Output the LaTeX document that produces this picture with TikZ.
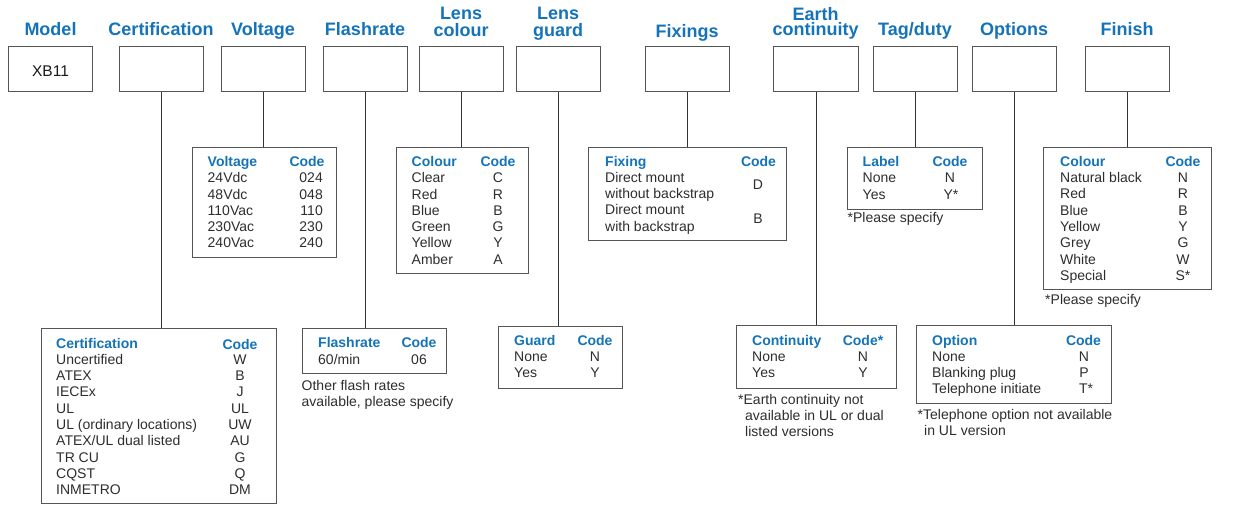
\documentclass[tikz,border=0pt]{standalone}
\usepackage{fontspec}
\setmainfont{Liberation Sans}
\definecolor{hblue}{RGB}{20,115,185}
\definecolor{boxgray}{RGB}{85,85,85}
\definecolor{txt}{RGB}{45,45,45}
\tikzset{
 title/.style={font=\fontsize{18}{18}\selectfont\bfseries, text=hblue, inner sep=0, anchor=base},
 topbox/.style={draw=boxgray, line width=1.2pt, minimum width=84pt, minimum height=45pt, anchor=north west, inner sep=0},
 tab/.style={draw=boxgray, line width=1.2pt, anchor=north west, inner sep=0},
 hd/.style={font=\fontsize{14}{16}\selectfont\bfseries, text=hblue, inner sep=0, anchor=base west},
 hdc/.style={hd, anchor=base},
 tx/.style={font=\fontsize{14}{16}\selectfont, text=txt, inner sep=0, anchor=base west},
 cd/.style={tx, anchor=base},
 cdr/.style={tx, anchor=base east},
 link/.style={draw=black!80, line width=0.9pt},
}
\begin{document}
\begin{tikzpicture}[x=1pt,y=-1pt]
\useasboundingbox (0,0) rectangle (1233,530);
% top boxes
\node[topbox] (model) at (8,46) {};
\node[topbox] (cert) at (119,46) {};
\node[topbox] (volt) at (221,46) {};
\node[topbox] (flash) at (323,46) {};
\node[topbox] (lcol) at (419,46) {};
\node[topbox] (lguard) at (516,46) {};
\node[topbox] (fix) at (645,46) {};
\node[topbox, minimum width=85pt] (earth) at (773,46) {};
\node[topbox] (tag) at (873,46) {};
\node[topbox] (opt) at (972,46) {};
\node[topbox] (fin) at (1085,46) {};
\node[font=\fontsize{15.5}{16}\selectfont, text=black!90, inner sep=0, anchor=base] (xb) at (50.5,76) {XB11};
% titles
\node[title] (tmodel) at (50.5,35) {Model};
\node[title] (tcert) at (161,35) {Certification};
\node[title] (tvolt) at (263,35) {Voltage};
\node[title] (tflash) at (365,35) {Flashrate};
\node[title] (tlcol1) at (461,19.3) {Lens};
\node[title] (tlcol2) at (461,36) {colour};
\node[title] (tlg1) at (558,19.3) {Lens};
\node[title] (tlg2) at (558,36) {guard};
\node[title] (tfix) at (687,37) {Fixings};
\node[title] (tearth1) at (815.5,20.2) {Earth};
\node[title] (tearth2) at (815.5,35.8) {continuity};
\node[title] (ttag) at (915,35) {Tag/duty};
\node[title] (topt) at (1014,35) {Options};
\node[title] (tfin) at (1127,35) {Finish};
% tables
\node[tab, minimum width=235pt, minimum height=175pt] (certtab) at (41,328) {};
\node[tab, minimum width=144pt, minimum height=110pt] (volttab) at (192,147) {};
\node[tab, minimum width=144pt, minimum height=45pt] (flashtab) at (302,328) {};
\node[tab, minimum width=132pt, minimum height=126pt] (coltab) at (396,147) {};
\node[tab, minimum width=124pt, minimum height=62pt] (guardtab) at (498,326) {};
\node[tab, minimum width=198pt, minimum height=93pt] (fixtab) at (588,147) {};
\node[tab, minimum width=160pt, minimum height=63pt] (conttab) at (736,325) {};
\node[tab, minimum width=135pt, minimum height=62pt] (labtab) at (847,147) {};
\node[tab, minimum width=195pt, minimum height=78pt] (opttab) at (916,325) {};
\node[tab, minimum width=168pt, minimum height=142pt] (fintab) at (1043,147) {};
% connectors
\draw[link] (cert.south) -- (cert.south |- certtab.north);
\draw[link] (volt.south) -- (volt.south |- volttab.north);
\draw[link] (flash.south) -- (flash.south |- flashtab.north);
\draw[link] (lcol.south) -- (lcol.south |- coltab.north);
\draw[link] (lguard.south) -- (lguard.south |- guardtab.north);
\draw[link] (fix.south) -- (fix.south |- fixtab.north);
\draw[link] (earth.south) -- (earth.south |- conttab.north);
\draw[link] (tag.south) -- (tag.south |- labtab.north);
\draw[link] (opt.south) -- (opt.south |- opttab.north);
\draw[link] (fin.south) -- (fin.south |- fintab.north);
% certification table
\node[hd] (certh) at (56,348) {Certification};
\node[hdc] (certc) at (240,349) {Code};
\foreach \a/\b [count=\i] in {Uncertified/W, ATEX/B, IECEx/J, UL/UL, {UL (ordinary locations)}/UW, {ATEX/UL dual listed}/AU, TR CU/G, CQST/Q, INMETRO/DM}{
  \node[tx] (cl\i) at (56,{364.3+16.3*(\i-1)}) {\a};
  \node[cd] (cc\i) at (240,{364.3+16.3*(\i-1)}) {\b};
}
% voltage table
\node[hd] (volth) at (207.5,166) {Voltage};
\node[hdc] (voltc) at (307,166) {Code};
\foreach \a/\b [count=\i] in {24Vdc/024, 48Vdc/048, 110Vac/110, 230Vac/230, 240Vac/240}{
  \node[tx] (vl\i) at (207.5,{182.7+16.3*(\i-1)}) {\a};
  \node[cdr] (vc\i) at (323,{182.7+16.3*(\i-1)}) {\b};
}
% flashrate table
\node[hd] (flashh) at (318,347.7) {Flashrate};
\node[hdc] (flashc) at (419,347.7) {Code};
\node[tx] (fl1) at (318,364) {60/min};
\node[cd] (fc1) at (419,364) {06};
\node[tx] (fn1) at (301.5,390.7) {Other flash rates};
\node[tx] (fn2) at (301.5,406.3) {available, please specify};
% lens colour table
\node[hd] (colh) at (411.5,166) {Colour};
\node[hdc] (colc) at (498,166) {Code};
\foreach \a/\b [count=\i] in {Clear/C, Red/R, Blue/B, Green/G, Yellow/Y, Amber/A}{
  \node[tx] (ll\i) at (411.5,{182.7+16.3*(\i-1)}) {\a};
  \node[cd] (lc\i) at (498,{182.7+16.3*(\i-1)}) {\b};
}
% guard table
\node[hd] (guardh) at (514,345) {Guard};
\node[hdc] (guardc) at (595,345) {Code};
\node[tx] (gl1) at (514,361) {None};
\node[cd] (gc1) at (595,361) {N};
\node[tx] (gl2) at (514,377.3) {Yes};
\node[cd] (gc2) at (595,377.3) {Y};
% fixing table
\node[hd] (fixh) at (605,166) {Fixing};
\node[hdc] (fixc) at (758.5,166) {Code};
\node[tx] (xl1) at (605,182.3) {Direct mount};
\node[tx] (xl2) at (605,198.6) {without backstrap};
\node[tx] (xl3) at (605,214.9) {Direct mount};
\node[tx] (xl4) at (605,231.2) {with backstrap};
\node[cd] (xc1) at (758,189) {D};
\node[cd] (xc2) at (758,223) {B};
% continuity table
\node[hd] (conth) at (752,345) {Continuity};
\node[hdc] (contc) at (863,345) {Code*};
\node[tx] (kl1) at (752,361) {None};
\node[cd] (kc1) at (863,361) {N};
\node[tx] (kl2) at (752,377.3) {Yes};
\node[cd] (kc2) at (863,377.3) {Y};
\node[tx] (kn1) at (738,404.3) {*Earth continuity not};
\node[tx] (kn2) at (745,420.6) {available in UL or dual};
\node[tx] (kn3) at (745,436.9) {listed versions};
% label table
\node[hd] (labh) at (862.5,166) {Label};
\node[hdc] (labc) at (950,166) {Code};
\node[tx] (bl1) at (862.5,182.7) {None};
\node[cd] (bc1) at (950,182.7) {N};
\node[tx] (bl2) at (862.5,199) {Yes};
\node[cd] (bc2) at (951,199) {Y*};
\node[tx] (bn1) at (847.5,222.7) {*Please specify};
% option table
\node[hd] (opth) at (932,345) {Option};
\node[hdc] (optc) at (1083.5,345) {Code};
\node[tx] (ol1) at (932,361) {None};
\node[cd] (oc1) at (1084,361) {N};
\node[tx] (ol2) at (932,377.3) {Blanking plug};
\node[cd] (oc2) at (1084,377.3) {P};
\node[tx] (ol3) at (932,393.6) {Telephone initiate};
\node[cd] (oc3) at (1086,393.6) {T*};
\node[tx] (on1) at (917.5,419) {*Telephone option not available};
\node[tx] (on2) at (924,435.3) {in UL version};
% finish table
\node[hd] (finh) at (1060,166) {Colour};
\node[hdc] (finc) at (1183,166) {Code};
\foreach \a/\b [count=\i] in {Natural black/N, Red/R, Blue/B, Yellow/Y, Grey/G, White/W, Special/S*}{
  \node[tx] (nl\i) at (1060,{182.5+16.3*(\i-1)}) {\a};
  \node[cd] (nc\i) at (1183,{182.5+16.3*(\i-1)}) {\b};
}
\node[tx] (nn1) at (1045,304) {*Please specify};
\end{tikzpicture}
\end{document}
